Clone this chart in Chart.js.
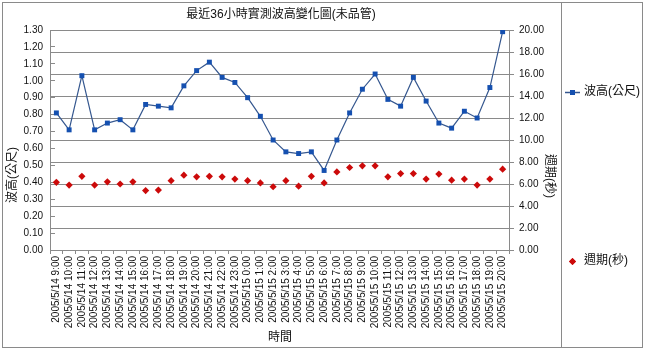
<!DOCTYPE html>
<html>
<head>
<meta charset="utf-8">
<script src="https://cdn.jsdelivr.net/npm/chart.js@4.4.1/dist/chart.umd.min.js"></script>
<style>
  html, body { margin: 0; padding: 0; background: #fff; }
  #wrap { width: 645px; height: 352px; }
</style>
</head>
<body>
<div id="wrap"><canvas id="chart" width="645" height="352"></canvas></div>
<script>
// Chart data
const timeLabels = [
    '2005/5/14 9:00', '2005/5/14 10:00', '2005/5/14 11:00', '2005/5/14 12:00',
    '2005/5/14 13:00', '2005/5/14 14:00', '2005/5/14 15:00', '2005/5/14 16:00',
    '2005/5/14 17:00', '2005/5/14 18:00', '2005/5/14 19:00', '2005/5/14 20:00',
    '2005/5/14 21:00', '2005/5/14 22:00', '2005/5/14 23:00', '2005/5/15 0:00',
    '2005/5/15 1:00', '2005/5/15 2:00', '2005/5/15 3:00', '2005/5/15 4:00',
    '2005/5/15 5:00', '2005/5/15 6:00', '2005/5/15 7:00', '2005/5/15 8:00',
    '2005/5/15 9:00', '2005/5/15 10:00', '2005/5/15 11:00', '2005/5/15 12:00',
    '2005/5/15 13:00', '2005/5/15 14:00', '2005/5/15 15:00', '2005/5/15 16:00',
    '2005/5/15 17:00', '2005/5/15 18:00', '2005/5/15 19:00', '2005/5/15 20:00'
];
const waveHeight = [
    0.81, 0.71, 1.03, 0.71, 0.75, 0.77, 0.71, 0.86, 0.85, 0.84, 0.97, 1.06,
    1.11, 1.02, 0.99, 0.90, 0.79, 0.65, 0.58, 0.57, 0.58, 0.47, 0.65, 0.81,
    0.95, 1.04, 0.89, 0.85, 1.02, 0.88, 0.75, 0.72, 0.82, 0.78, 0.96, 1.29
];
const wavePeriod = [
    6.15, 5.9, 6.7, 5.9, 6.2, 6.0, 6.2, 5.4, 5.45, 6.3, 6.8, 6.65,
    6.7, 6.65, 6.45, 6.3, 6.1, 5.75, 6.3, 5.8, 6.7, 6.1, 7.1, 7.5,
    7.65, 7.65, 6.65, 6.95, 6.95, 6.45, 6.9, 6.35, 6.45, 5.9, 6.45, 7.35
];
const heightTicks = [0, 0.1, 0.2, 0.3, 0.4, 0.5, 0.6, 0.7, 0.8, 0.9, 1.0, 1.1, 1.2, 1.3];
const periodTicks = [0, 2, 4, 6, 8, 10, 12, 14, 16, 18, 20];

const chartTitle = '最近36小時實測波高變化圖(未品管)';
const heightName = '波高(公尺)';
const periodName = '週期(秒)';
const xTitle = '時間';

const FONT = "'Liberation Sans', Arial, 'Noto Sans CJK TC', sans-serif";
const lineGray = '#8a8a8a';

// Frame, titles and legend drawn around the plot
const decorations = {
    id: 'decorations',
    beforeDraw(chart) {
        const ctx = chart.ctx;
        ctx.save();
        ctx.fillStyle = '#fff';
        ctx.fillRect(0, 0, chart.width, chart.height);
        ctx.strokeStyle = lineGray;
        ctx.lineWidth = 1;
        ctx.strokeRect(2.5, 2.5, 640, 345);
        ctx.beginPath();
        ctx.moveTo(561.5, 2.5);
        ctx.lineTo(561.5, 347.5);
        ctx.stroke();
        ctx.restore();
    },
    afterDraw(chart) {
        const ctx = chart.ctx;
        ctx.save();
        ctx.fillStyle = '#111';
        ctx.textAlign = 'center';
        ctx.textBaseline = 'middle';
        ctx.font = '12px ' + FONT;
        ctx.fillText(chartTitle, 281, 15);
        ctx.fillText(xTitle, 280, 338);

        ctx.save();
        ctx.translate(13, 175);
        ctx.rotate(-Math.PI / 2);
        ctx.fillText(heightName, 0, 0);
        ctx.restore();

        ctx.save();
        ctx.translate(549, 176);
        ctx.rotate(Math.PI / 2);
        ctx.fillText(periodName, 0, 0);
        ctx.restore();

        // legend
        const ds = chart.data.datasets;
        ctx.textAlign = 'left';
        ctx.strokeStyle = ds[0].borderColor;
        ctx.lineWidth = 1.5;
        ctx.beginPath();
        ctx.moveTo(565, 92.5);
        ctx.lineTo(580, 92.5);
        ctx.stroke();
        Chart.helpers.drawPoint(ctx, {pointStyle: 'rect', radius: 3.5, borderWidth: 0}, 572.5, 92.5);
        ctx.fillStyle = ds[0].pointBackgroundColor;
        ctx.fill();
        ctx.fillStyle = '#111';
        ctx.fillText(ds[0].label, 584, 92);

        ctx.fillStyle = ds[1].pointBackgroundColor;
        Chart.helpers.drawPoint(ctx, {pointStyle: 'rectRot', radius: 3.5, borderWidth: 0}, 572.5, 261.5);
        ctx.fill();
        ctx.fillStyle = '#111';
        ctx.fillText(ds[1].label, 584, 261);
        ctx.restore();
    }
};

new Chart(document.getElementById('chart'), {
    type: 'line',
    data: {
        labels: timeLabels,
        datasets: [
            {
                label: heightName,
                data: waveHeight,
                yAxisID: 'y',
                borderColor: '#35578f',
                borderWidth: 1.2,
                pointStyle: 'rect',
                pointRadius: 3.5,
                pointBorderWidth: 0,
                pointBackgroundColor: '#1550b0',
                pointBorderColor: '#1550b0',
                tension: 0,
                order: 1
            },
            {
                label: periodName,
                data: wavePeriod,
                yAxisID: 'y1',
                showLine: false,
                pointStyle: 'rectRot',
                pointRadius: 3.6,
                pointBorderWidth: 0,
                pointBackgroundColor: '#cc0a0a',
                pointBorderColor: '#cc0a0a',
                order: 0
            }
        ]
    },
    options: {
        responsive: false,
        animation: false,
        devicePixelRatio: 1,
        layout: { padding: { top: 30, left: 0, right: 0, bottom: 0 } },
        plugins: {
            legend: { display: false },
            title: { display: false },
            tooltip: { enabled: false }
        },
        scales: {
            x: {
                type: 'category',
                offset: true,
                grid: { offset: true, drawOnChartArea: false, tickLength: 4, color: lineGray },
                border: { color: lineGray },
                ticks: {
                    autoSkip: false,
                    minRotation: 90,
                    maxRotation: 90,
                    padding: 2,
                    color: '#111',
                    font: { size: 10, family: FONT }
                },
                afterFit(scale) { scale.height = 102; }
            },
            y: {
                position: 'left',
                min: 0,
                max: 1.3,
                afterBuildTicks(scale) { scale.ticks = heightTicks.map(v => ({ value: v })); },
                grid: { drawOnChartArea: true, drawTicks: false, color: lineGray },
                border: { color: lineGray, dash: [4, 2000] },
                ticks: {
                    padding: 7,
                    color: '#111',
                    font: { size: 10, family: FONT },
                    callback: v => Number(v).toFixed(2)
                },
                afterFit(scale) { scale.width = 50; }
            },
            y1: {
                position: 'right',
                min: 0,
                max: 20,
                afterBuildTicks(scale) { scale.ticks = periodTicks.map(v => ({ value: v })); },
                grid: { drawOnChartArea: true, tickLength: 5, color: lineGray },
                border: { color: lineGray },
                ticks: {
                    padding: 5,
                    color: '#111',
                    font: { size: 10, family: FONT },
                    callback: v => Number(v).toFixed(2)
                },
                afterFit(scale) { scale.width = 136; }
            }
        }
    },
    plugins: [decorations]
});
</script>
</body>
</html>
